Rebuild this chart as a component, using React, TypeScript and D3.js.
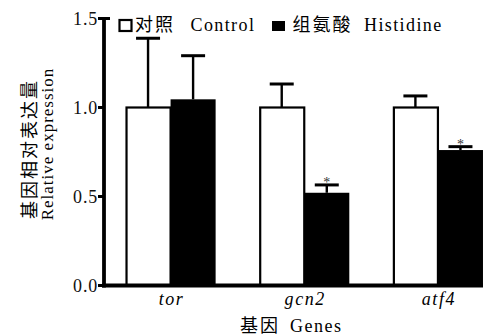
import React from "react";
import * as d3 from "d3";

const genes = ["tor", "gcn2", "atf4"];
const series = ["control", "histidine"];
const controlMean = [1.0, 1.0, 1.0];
const controlErr = [0.389, 0.132, 0.065];
const histMean = [1.046, 0.521, 0.761];
const histErr = [0.245, 0.044, 0.019];
const significant = [false, true, true];
const yTicks = [0, 0.5, 1.0, 1.5];

const W = 483;
const H = 336;
const LATIN = "'Liberation Serif', 'DejaVu Serif', serif";
const CJK = "'Noto Sans CJK SC', 'Noto Sans CJK JP', sans-serif";

export default function App() {
  const axisX = 104;
  const y = d3.scaleLinear().domain([0, 1.5]).range([285.5, 18.5]);
  const x0 = d3
    .scaleBand<string>()
    .domain(genes)
    .range([axisX, 504.5])
    .paddingInner(0.326)
    .paddingOuter(0.161);
  const x1 = d3
    .scaleBand<string>()
    .domain(series)
    .range([0, x0.bandwidth()])
    .padding(0);

  const rows = genes.map((g, i) => ({
    gene: g,
    values: [
      { s: "control", mean: controlMean[i], err: controlErr[i], sig: false },
      { s: "histidine", mean: histMean[i], err: histErr[i], sig: significant[i] },
    ],
  }));

  const capW = 24;
  const y0 = y(0);

  return (
    <svg
      width={W}
      height={H}
      style={{ position: "absolute", left: 0, top: 0, background: "#fff" }}
    >
      <rect x={0} y={0} width={W} height={H} fill="#fff" />
      {/* bars */}
      {rows.map((r) =>
        r.values.map((v) => {
          const bx = (x0(r.gene) as number) + (x1(v.s) as number);
          const bw = x1.bandwidth();
          const top = y(v.mean);
          const isCtrl = v.s === "control";
          return (
            <g key={r.gene + v.s}>
              <rect
                x={isCtrl ? bx + 1 : bx}
                y={top}
                width={isCtrl ? bw - 1 : bw}
                height={y0 - top}
                fill={isCtrl ? "#fff" : "#000"}
                stroke="#000"
                strokeWidth={isCtrl ? 2.2 : 0}
              />
              <line
                x1={bx + bw / 2}
                x2={bx + bw / 2}
                y1={top}
                y2={y(v.mean + v.err)}
                stroke="#000"
                strokeWidth={2.4}
              />
              <line
                x1={bx + bw / 2 - capW / 2}
                x2={bx + bw / 2 + capW / 2}
                y1={y(v.mean + v.err)}
                y2={y(v.mean + v.err)}
                stroke="#000"
                strokeWidth={3}
              />
              {v.sig && (
                <text
                  x={bx + bw / 2}
                  y={y(v.mean + v.err) + 2}
                  textAnchor="middle"
                  fontFamily={LATIN}
                  fontSize={14}
                  fill="#333"
                >
                  *
                </text>
              )}
            </g>
          );
        })
      )}

      {/* y axis */}
      <line x1={axisX} x2={axisX} y1={y(1.5) - 1.5} y2={y0 + 2} stroke="#000" strokeWidth={3.8} />
      <line x1={axisX - 2} x2={110} y1={y(1.5)} y2={y(1.5)} stroke="#000" strokeWidth={3} />
      {yTicks.map((t) => (
        <g key={t}>
          <line x1={axisX - 6} x2={axisX} y1={y(t)} y2={y(t)} stroke="#000" strokeWidth={3} />
          <text
            x={98}
            y={y(t) + 6}
            textAnchor="end"
            fontFamily={LATIN}
            fontSize={18}
            letterSpacing={0.8}
            fill="#111"
          >
            {d3.format(".1f")(t)}
          </text>
        </g>
      ))}

      {/* x axis */}
      <line x1={axisX - 2} x2={W} y1={y0} y2={y0} stroke="#000" strokeWidth={4} />
      {genes.map((g) => (
        <text
          key={g}
          x={(x0(g) as number) + x0.bandwidth() / 2 + 1}
          y={305}
          textAnchor="middle"
          fontFamily={LATIN}
          fontStyle="italic"
          fontSize={18}
          letterSpacing={1.6}
          fill="#000"
        >
          {g}
        </text>
      ))}

      {/* x title */}
      <text x={240} y={332} fontFamily={CJK} fontSize={18} letterSpacing={2} fill="#000">
        基因
      </text>
      <text x={290} y={332} fontFamily={LATIN} fontSize={18} letterSpacing={1.5} fill="#000">
        Genes
      </text>

      {/* y title */}
      <text
        transform="translate(36,149) rotate(-90)"
        textAnchor="middle"
        fontFamily={CJK}
        fontSize={18}
        letterSpacing={2}
        fill="#000"
      >
        基因相对表达量
      </text>
      <text
        transform="translate(53,144) rotate(-90)"
        textAnchor="middle"
        fontFamily={LATIN}
        fontSize={17}
        letterSpacing={1}
        fill="#000"
      >
        Relative expression
      </text>

      {/* legend */}
      <rect x={119.5} y={20} width={12} height={11} fill="#fff" stroke="#000" strokeWidth={2.2} />
      <text x={135} y={31} fontFamily={CJK} fontSize={18} letterSpacing={2} fill="#000">
        对照
      </text>
      <text x={190.5} y={31} fontFamily={LATIN} fontSize={18} letterSpacing={1.4} fill="#000">
        Control
      </text>
      <rect x={272} y={21} width={13} height={10} fill="#000" />
      <text x={292.5} y={31} fontFamily={CJK} fontSize={18} letterSpacing={2} fill="#000">
        组氨酸
      </text>
      <text x={364} y={31} fontFamily={LATIN} fontSize={18} letterSpacing={1.4} fill="#000">
        Histidine
      </text>
    </svg>
  );
}
